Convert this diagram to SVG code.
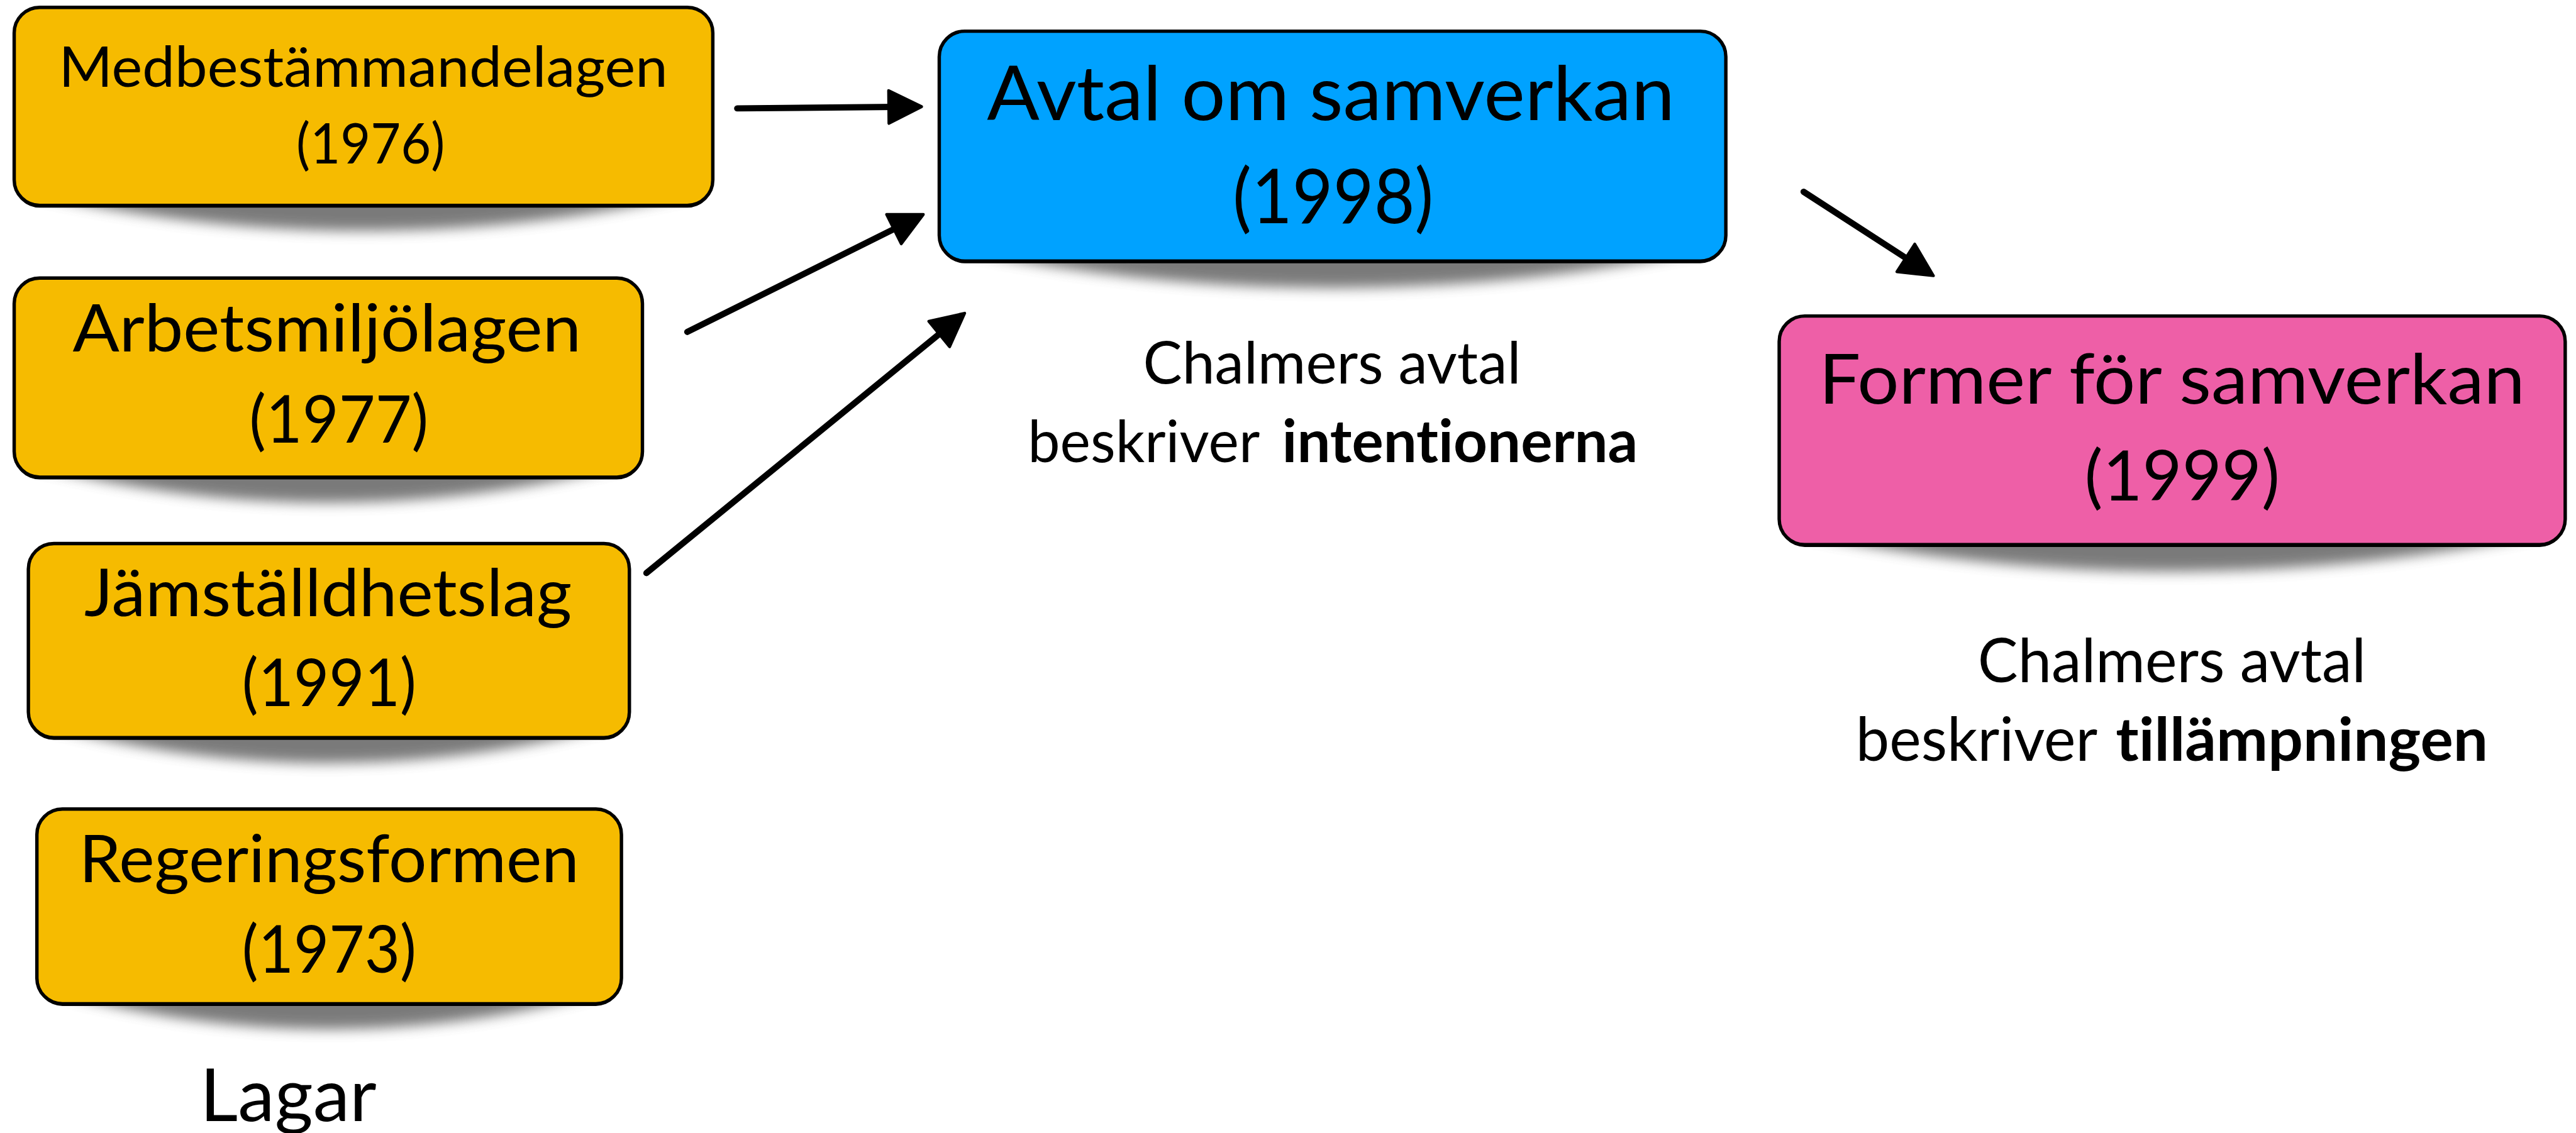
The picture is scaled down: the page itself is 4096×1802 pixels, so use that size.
<svg xmlns="http://www.w3.org/2000/svg" width="4096" height="1802" viewBox="0 0 4096 1802">
<style>
text{font-family:"Lato","Noto Sans","Liberation Sans",sans-serif;fill:#000;font-variant-ligatures:none;font-feature-settings:"liga" 0,"clig" 0,"dlig" 0;}
.box{stroke:#000;stroke-width:6;}
.yel{fill:#F6BB00;}
.blue{fill:#00A2FF;}
.pink{fill:#EE5FA7;}
.under{fill:#000;}
.shadow{fill:#5a5a5a;opacity:0.8;filter:url(#blur);}
.conn{stroke:#000;stroke-width:11;stroke-linecap:round;fill:none;marker-end:url(#ah);}
.b{font-weight:700;}
</style>
<defs>
<filter id="blur" x="-20%" y="-150%" width="140%" height="400%">
<feGaussianBlur stdDeviation="11"/>
</filter>
<marker id="ah" markerUnits="userSpaceOnUse" markerWidth="70" markerHeight="70" refX="15" refY="31" orient="auto" overflow="visible">
<path d="M2,2 L60,31 L2,60 Z" fill="#000" stroke="#000" stroke-width="5" stroke-linejoin="round"/>
</marker>
</defs>
<rect width="4096" height="1802" fill="#fff"/>
<g transform="scale(0.9024)">
<g id="connectors">
<line class="conn" x1="1299" y1="191" x2="1579" y2="188.4"/>
<line class="conn" x1="1211" y1="585" x2="1586.7" y2="398"/>
<line class="conn" x1="1139" y1="1010" x2="1665" y2="580.5"/>
<line class="conn" x1="3178" y1="338" x2="3369" y2="461.6"/>
</g>
<g id="medbestammandelagen">
<path class="shadow" d="M60,342 L1221,342 Q640.5,472 60,342 Z"/>
<rect class="under" x="25" y="17" width="1231" height="349" rx="45"/>
<rect class="box yel" x="25" y="13" width="1231" height="349" rx="45"/>
<text x="640" y="153" font-size="99" text-anchor="middle" textLength="1073" lengthAdjust="spacingAndGlyphs">Medbestämmandelagen</text>
<text x="653" y="288" font-size="99" text-anchor="middle" textLength="262" lengthAdjust="spacingAndGlyphs">(1976)</text>
</g>
<g id="arbetsmiljolagen">
<path class="shadow" d="M60,821 L1097,821 Q578.5,951 60,821 Z"/>
<rect class="under" x="25" y="494" width="1107" height="351" rx="45"/>
<rect class="box yel" x="25" y="490" width="1107" height="351" rx="45"/>
<text x="576" y="619" font-size="115" text-anchor="middle" textLength="896" lengthAdjust="spacingAndGlyphs">Arbetsmiljölagen</text>
<text x="597" y="780" font-size="115" text-anchor="middle" textLength="316" lengthAdjust="spacingAndGlyphs">(1977)</text>
</g>
<g id="jamstalldhetslag">
<path class="shadow" d="M85,1280 L1074,1280 Q579.5,1410 85,1280 Z"/>
<rect class="under" x="50" y="962" width="1059" height="342" rx="45"/>
<rect class="box yel" x="50" y="958" width="1059" height="342" rx="45"/>
<text x="578" y="1086" font-size="115" text-anchor="middle" textLength="859" lengthAdjust="spacingAndGlyphs">Jämställdhetslag</text>
<text x="580" y="1244" font-size="115" text-anchor="middle" textLength="307" lengthAdjust="spacingAndGlyphs">(1991)</text>
</g>
<g id="regeringsformen">
<path class="shadow" d="M100,1749 L1060,1749 Q580,1879 100,1749 Z"/>
<rect class="under" x="65" y="1430" width="1030" height="343" rx="45"/>
<rect class="box yel" x="65" y="1426" width="1030" height="343" rx="45"/>
<text x="580" y="1555" font-size="115" text-anchor="middle" textLength="881" lengthAdjust="spacingAndGlyphs">Regeringsformen</text>
<text x="580" y="1714" font-size="115" text-anchor="middle" textLength="307" lengthAdjust="spacingAndGlyphs">(1973)</text>
</g>
<g id="lagar">
<text x="508" y="1976" font-size="128" text-anchor="middle" textLength="311" lengthAdjust="spacingAndGlyphs">Lagar</text>
</g>
<g id="avtal-om-samverkan">
<path class="shadow" d="M1690,440 L3006,440 Q2348,575 1690,440 Z"/>
<rect class="under" x="1655" y="59" width="1386" height="405" rx="45"/>
<rect class="box blue" x="1655" y="55" width="1386" height="405" rx="45"/>
<text x="2345" y="212" font-size="134" text-anchor="middle" textLength="1212" lengthAdjust="spacingAndGlyphs">Avtal om samverkan</text>
<text x="2349" y="393" font-size="134" text-anchor="middle" textLength="354" lengthAdjust="spacingAndGlyphs">(1998)</text>
</g>
<g id="caption-intentionerna">
<text x="2347" y="676" font-size="104" text-anchor="middle" textLength="666" lengthAdjust="spacingAndGlyphs">Chalmers avtal</text>
<text x="1811" y="814" font-size="104" textLength="409" lengthAdjust="spacingAndGlyphs">beskriver</text>
<text class="b" x="2259" y="814" font-size="104" textLength="627" lengthAdjust="spacingAndGlyphs">intentionerna</text>
</g>
<g id="former-for-samverkan">
<path class="shadow" d="M3170,940 L4485,940 Q3827.5,1075 3170,940 Z"/>
<rect class="under" x="3135" y="561" width="1385" height="403" rx="45"/>
<rect class="box pink" x="3135" y="557" width="1385" height="403" rx="45"/>
<text x="3827" y="712" font-size="122" text-anchor="middle" textLength="1244" lengthAdjust="spacingAndGlyphs">Former för samverkan</text>
<text x="3845" y="882" font-size="122" text-anchor="middle" textLength="344" lengthAdjust="spacingAndGlyphs">(1999)</text>
</g>
<g id="caption-tillampningen">
<text x="3827" y="1202" font-size="107" text-anchor="middle" textLength="684" lengthAdjust="spacingAndGlyphs">Chalmers avtal</text>
<text x="3270" y="1341" font-size="107" textLength="426" lengthAdjust="spacingAndGlyphs">beskriver</text>
<text class="b" x="3728" y="1341" font-size="107" textLength="656" lengthAdjust="spacingAndGlyphs">tillämpningen</text>
</g>
</g>
</svg>
